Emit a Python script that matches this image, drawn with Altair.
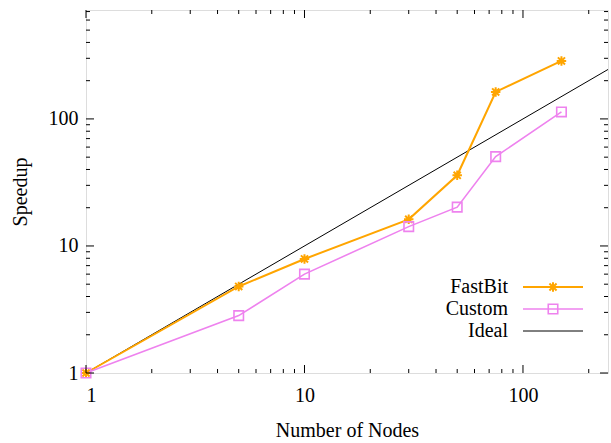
import altair as alt
import pandas as pd

nodes = [1, 5, 10, 30, 50, 75, 150]
fastbit = [1, 4.8, 7.9, 16.2, 36, 163, 286]
custom = [1, 2.83, 6.0, 14.2, 20.2, 50.5, 113.5]
ideal_x = [1, 245]
ideal_y = [1, 245]

x_major = [1, 10, 100]
x_minor = [2, 3, 4, 5, 6, 7, 8, 9, 20, 30, 40, 50, 60, 70, 80, 90, 200]
y_major = [1, 10, 100]
y_minor = [2, 3, 4, 5, 6, 7, 8, 9, 20, 30, 40, 50, 60, 70, 80, 90,
           200, 300, 400, 500, 600, 700]

W, H = 522, 363
FONT = "Liberation Serif"
FS = 20

xs = alt.Scale(type="log", domain=[1, 245], nice=False)
ys = alt.Scale(type="log", domain=[1, 720], nice=False)

xaxis = alt.Axis(
    values=x_major, format="d", tickSize=0, domain=False, grid=False,
    labelFont=FONT, labelFontSize=FS, labelColor="black", labelPadding=12,
    title="Number of Nodes", titleFont=FONT, titleFontSize=FS,
    titleFontWeight="normal", titleColor="black", titlePadding=15)
yaxis = alt.Axis(
    values=y_major, format="d", tickSize=0, domain=False, grid=False,
    labelFont=FONT, labelFontSize=FS, labelColor="black", labelPadding=8,
    title="Speedup", titleFont=FONT, titleFontSize=FS,
    titleFontWeight="normal", titleColor="black", titlePadding=18)

def X(f):
    return alt.X(f, scale=xs, axis=xaxis)

def Y(f):
    return alt.Y(f, scale=ys, axis=yaxis)

df_f = pd.DataFrame({"x": nodes, "y": fastbit})
df_c = pd.DataFrame({"x": nodes, "y": custom})
df_i = pd.DataFrame({"x": ideal_x, "y": ideal_y})

star = "M-1,0L1,0M0,-1L0,1M-0.75,-0.75L0.75,0.75M-0.75,0.75L0.75,-0.75"
ORANGE = "#FFA500"
VIOLET = "#EE82EE"

ideal = alt.Chart(df_i).mark_line(color="black", strokeWidth=1, clip=True).encode(x=X("x:Q"), y=Y("y:Q"))
fb_line = alt.Chart(df_f).mark_line(color=ORANGE, strokeWidth=2).encode(x=X("x:Q"), y=Y("y:Q"))
fb_pts = alt.Chart(df_f).mark_point(shape=star, size=90, color=ORANGE, strokeWidth=2, filled=False, opacity=1).encode(
    x=X("x:Q"), y=Y("y:Q"))
cu_line = alt.Chart(df_c).mark_line(color=VIOLET, strokeWidth=1.6).encode(x=X("x:Q"), y=Y("y:Q"))
cu_pts = alt.Chart(df_c).mark_point(shape="square", size=90, color=VIOLET, strokeWidth=1.6, filled=False, opacity=1).encode(
    x=X("x:Q"), y=Y("y:Q"))

layers = [ideal, fb_line, cu_line, fb_pts, cu_pts]

def yticks(vals, length):
    d = pd.DataFrame({"y": vals})
    left = alt.Chart(d).mark_rule(color="black", strokeWidth=1).encode(
        y=Y("y:Q"), x=alt.value(0), x2=alt.value(length))
    right = alt.Chart(d).mark_rule(color="black", strokeWidth=1).encode(
        y=Y("y:Q"), x=alt.value(W), x2=alt.value(W - length))
    return [left, right]

def xticks(vals, length):
    d = pd.DataFrame({"x": vals})
    bottom = alt.Chart(d).mark_rule(color="black", strokeWidth=1).encode(
        x=X("x:Q"), y=alt.value(H), y2=alt.value(H - length))
    top = alt.Chart(d).mark_rule(color="black", strokeWidth=1).encode(
        x=X("x:Q"), y=alt.value(0), y2=alt.value(length))
    return [bottom, top]

layers += yticks(y_major, 8) + yticks(y_minor, 4) + xticks(x_major, 8) + xticks(x_minor, 4)

# legend
legend_rows = [("FastBit", ORANGE, star, 2, 277), ("Custom", VIOLET, "square", 1.6, 299), ("Ideal", "black", None, 1, 321)]
for label, col, shp, sw, py in legend_rows:
    d = pd.DataFrame({"t": [label]})
    layers.append(alt.Chart(d).mark_text(font=FONT, fontSize=FS, align="right", baseline="middle", color="black").encode(
        text="t:N", x=alt.value(422), y=alt.value(py)))
    layers.append(alt.Chart(d).mark_rule(color=col, strokeWidth=sw).encode(
        x=alt.value(437), x2=alt.value(497), y=alt.value(py)))
    if shp:
        layers.append(alt.Chart(d).mark_point(shape=shp, size=90, color=col, strokeWidth=sw, filled=False, opacity=1).encode(
            x=alt.value(467), y=alt.value(py)))

chart = alt.layer(*layers).properties(
    width=W, height=H,
    autosize=alt.AutoSizeParams(type="none"),
    padding={"left": 86, "top": 10, "right": 3, "bottom": 70},
).configure_view(stroke="black", strokeWidth=1.5).configure(background="white")

chart.save("out.html", embed_options={"renderer": "svg", "actions": False})
